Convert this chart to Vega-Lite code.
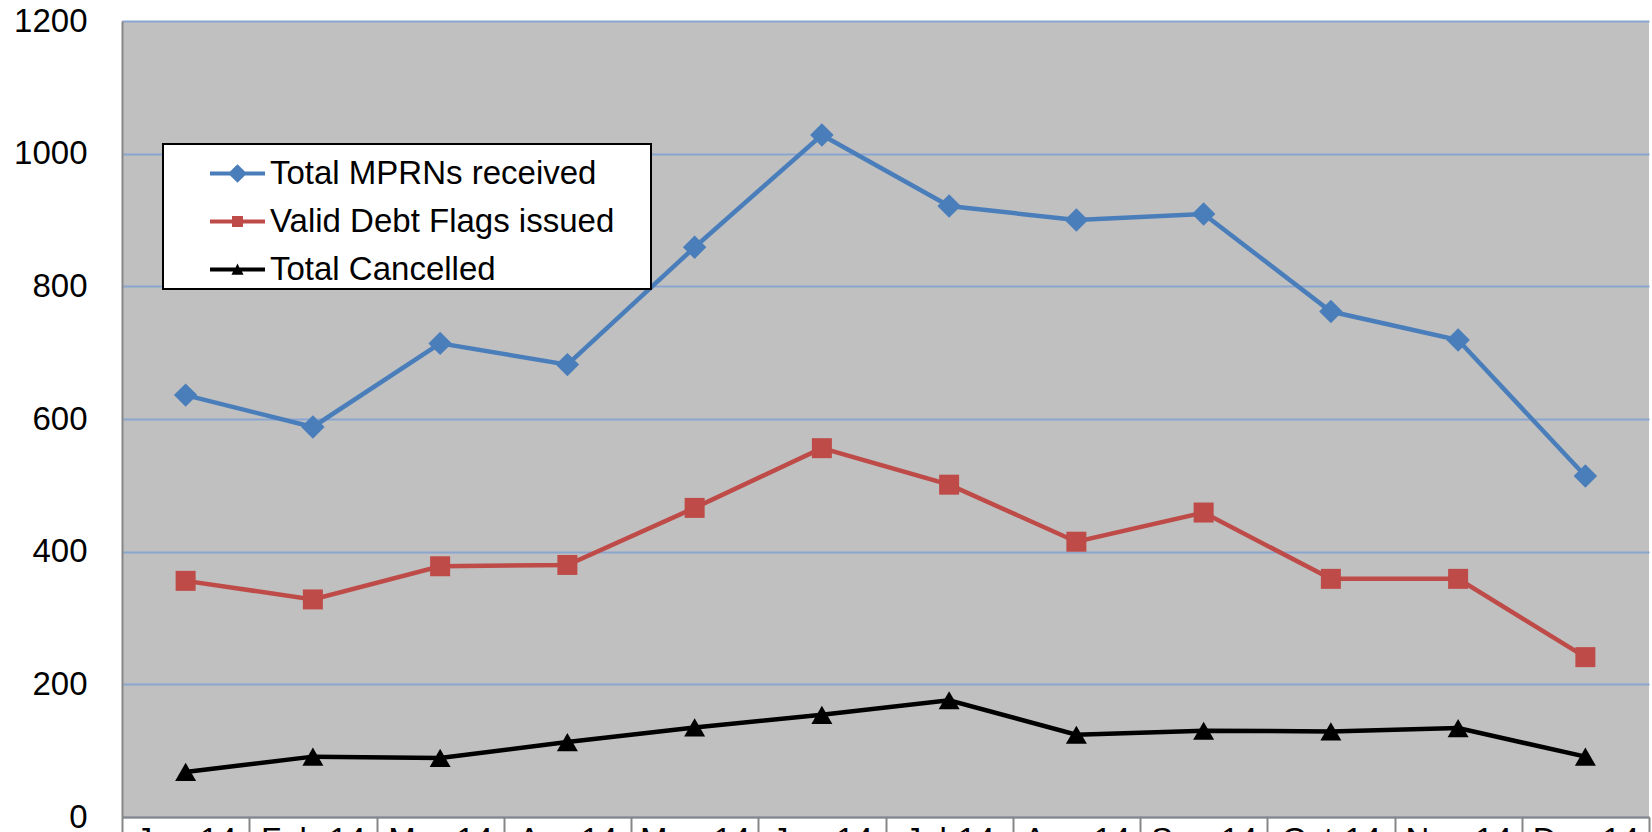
{
  "$schema": "https://vega.github.io/schema/vega-lite/v6.json",
  "width": 1527,
  "height": 796,
  "autosize": {"type": "none"},
  "padding": {"left": 122, "top": 21, "right": 3, "bottom": 15},
  "background": "white",
  "config": {
    "view": {"fill": "#C0C0C0", "stroke": null},
    "font": "Liberation Sans"
  },
  "data": {
    "values": [
      {"month": "Jan-14", "series": "Total MPRNs received", "value": 636},
      {"month": "Feb-14", "series": "Total MPRNs received", "value": 588},
      {"month": "Mar-14", "series": "Total MPRNs received", "value": 714},
      {"month": "Apr-14", "series": "Total MPRNs received", "value": 682},
      {"month": "May-14", "series": "Total MPRNs received", "value": 859},
      {"month": "Jun-14", "series": "Total MPRNs received", "value": 1028},
      {"month": "Jul-14", "series": "Total MPRNs received", "value": 921},
      {"month": "Aug-14", "series": "Total MPRNs received", "value": 900},
      {"month": "Sep-14", "series": "Total MPRNs received", "value": 909},
      {"month": "Oct-14", "series": "Total MPRNs received", "value": 762},
      {"month": "Nov-14", "series": "Total MPRNs received", "value": 719},
      {"month": "Dec-14", "series": "Total MPRNs received", "value": 514},
      {"month": "Jan-14", "series": "Valid Debt Flags issued", "value": 356},
      {"month": "Feb-14", "series": "Valid Debt Flags issued", "value": 328},
      {"month": "Mar-14", "series": "Valid Debt Flags issued", "value": 378},
      {"month": "Apr-14", "series": "Valid Debt Flags issued", "value": 380},
      {"month": "May-14", "series": "Valid Debt Flags issued", "value": 466},
      {"month": "Jun-14", "series": "Valid Debt Flags issued", "value": 556},
      {"month": "Jul-14", "series": "Valid Debt Flags issued", "value": 501},
      {"month": "Aug-14", "series": "Valid Debt Flags issued", "value": 415},
      {"month": "Sep-14", "series": "Valid Debt Flags issued", "value": 459},
      {"month": "Oct-14", "series": "Valid Debt Flags issued", "value": 359},
      {"month": "Nov-14", "series": "Valid Debt Flags issued", "value": 359},
      {"month": "Dec-14", "series": "Valid Debt Flags issued", "value": 241},
      {"month": "Jan-14", "series": "Total Cancelled", "value": 68},
      {"month": "Feb-14", "series": "Total Cancelled", "value": 91},
      {"month": "Mar-14", "series": "Total Cancelled", "value": 89},
      {"month": "Apr-14", "series": "Total Cancelled", "value": 113},
      {"month": "May-14", "series": "Total Cancelled", "value": 135},
      {"month": "Jun-14", "series": "Total Cancelled", "value": 154},
      {"month": "Jul-14", "series": "Total Cancelled", "value": 176},
      {"month": "Aug-14", "series": "Total Cancelled", "value": 124},
      {"month": "Sep-14", "series": "Total Cancelled", "value": 130},
      {"month": "Oct-14", "series": "Total Cancelled", "value": 129},
      {"month": "Nov-14", "series": "Total Cancelled", "value": 134},
      {"month": "Dec-14", "series": "Total Cancelled", "value": 91}
    ]
  },
  "encoding": {
    "x": {
      "field": "month",
      "type": "ordinal",
      "sort": ["Jan-14", "Feb-14", "Mar-14", "Apr-14", "May-14", "Jun-14", "Jul-14", "Aug-14", "Sep-14", "Oct-14", "Nov-14", "Dec-14"],
      "scale": {"type": "band", "paddingInner": 0, "paddingOuter": 0},
      "bandPosition": 0.5,
      "axis": {
        "title": null,
        "labelAngle": 0,
        "labelFontSize": 33,
        "labelColor": "black",
        "labelPadding": -18,
        "labelBaseline": "top",
        "labelOverlap": false,
        "tickBand": "extent",
        "tickSize": 25,
        "tickColor": "#868686",
        "tickWidth": 2,
        "domainColor": "#868686",
        "domainWidth": 2,
        "grid": false,
        "zindex": 1
      }
    },
    "y": {
      "field": "value",
      "type": "quantitative",
      "scale": {"domain": [0, 1200], "nice": false},
      "axis": {
        "title": null,
        "values": [0, 200, 400, 600, 800, 1000, 1200],
        "format": "d",
        "labelFontSize": 33,
        "labelColor": "black",
        "labelPadding": 35,
        "ticks": false,
        "domainColor": "#868686",
        "domainWidth": 2,
        "grid": true,
        "gridColor": "#8AA6CF",
        "gridWidth": 2
      }
    },
    "color": {
      "field": "series",
      "type": "nominal",
      "scale": {
        "domain": ["Total MPRNs received", "Valid Debt Flags issued", "Total Cancelled"],
        "range": ["#4A7EBB", "#BE4B48", "#000000"]
      },
      "legend": {
        "title": "\u00a0",
        "titleOrient": "right",
        "titleFontSize": 2,
        "titlePadding": 35,
        "orient": "none",
        "legendX": 41,
        "legendY": 123,
        "padding": 2,
        "fillColor": "white",
        "strokeColor": "black",
        "labelFontSize": 33,
        "labelColor": "black",
        "labelLimit": 600,
        "labelOffset": 5,
        "symbolOffset": 45,
        "symbolSize": 3025,
        "symbolStrokeWidth": 0,
        "rowPadding": 3,
        "encode": {"legend": {"update": {"strokeWidth": {"value": 2}}}}
      }
    }
  },
  "layer": [
    {"mark": {"type": "line", "strokeWidth": 4.5}},
    {
      "transform": [{"filter": "datum.series === 'Total MPRNs received'"}],
      "mark": {"type": "point", "shape": "diamond", "filled": true, "size": 550, "opacity": 1}
    },
    {
      "transform": [{"filter": "datum.series === 'Valid Debt Flags issued'"}],
      "mark": {"type": "point", "shape": "square", "filled": true, "size": 400, "opacity": 1}
    },
    {
      "transform": [{"filter": "datum.series === 'Total Cancelled'"}],
      "mark": {"type": "point", "shape": "triangle-up", "filled": true, "size": 441, "opacity": 1}
    },
    {
      "transform": [{"filter": "datum.value < 0"}],
      "mark": {"type": "point", "filled": true, "opacity": 1},
      "encoding": {
        "shape": {
          "field": "series",
          "type": "nominal",
          "scale": {
            "domain": ["Total MPRNs received", "Valid Debt Flags issued", "Total Cancelled"],
            "range": [
              "M-1,-0.07L-0.27,-0.07L0,-0.34L0.27,-0.07L1,-0.07L1,0.07L0.27,0.07L0,0.34L-0.27,0.07L-1,0.07Z",
              "M-1,-0.07L-0.2,-0.07L-0.2,-0.2L0.2,-0.2L0.2,-0.07L1,-0.07L1,0.07L0.2,0.07L0.2,0.2L-0.2,0.2L-0.2,0.07L-1,0.07Z",
              "M-1,-0.07L-0.07,-0.07L0,-0.22L0.07,-0.07L1,-0.07L1,0.07L0.16,0.07L0.22,0.19L-0.22,0.19L-0.16,0.07L-1,0.07Z"
            ]
          },
          "legend": {"title": "\u00a0"}
        }
      }
    }
  ]
}
